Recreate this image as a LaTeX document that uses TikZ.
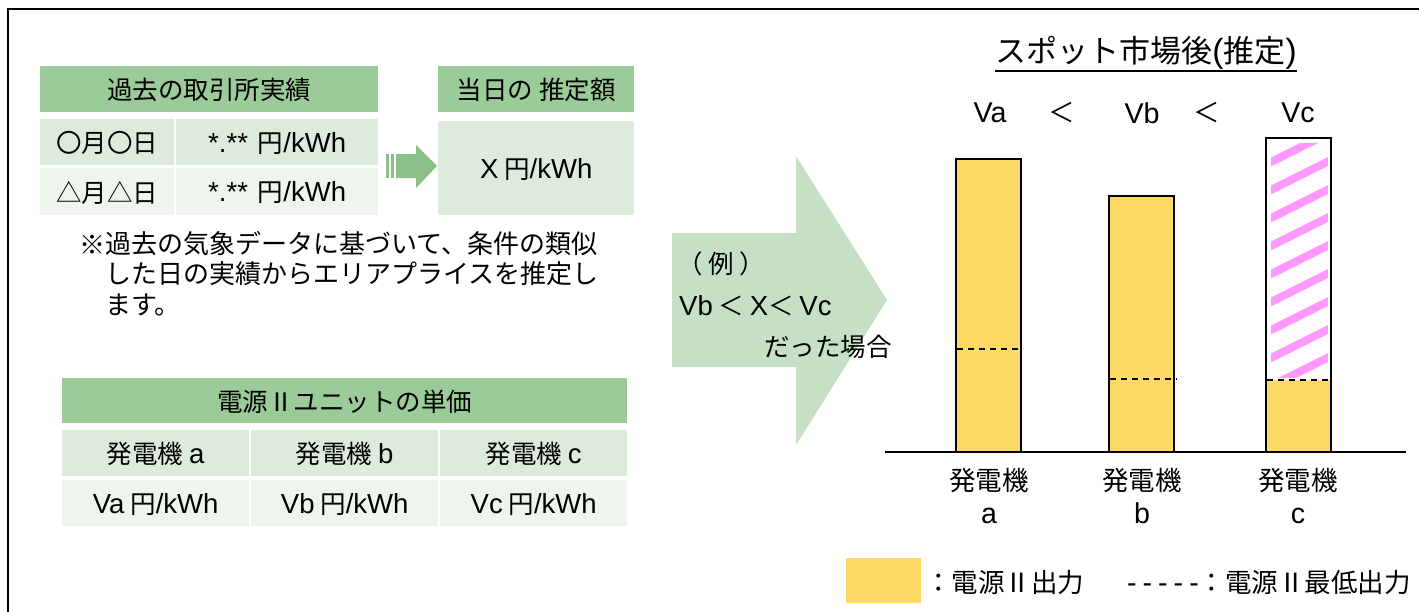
\documentclass[tikz,border=0pt]{standalone}
\usepackage{fontspec}
\setmainfont{Noto Sans CJK JP}
\newfontfamily\lat[Scale=1.08]{Liberation Sans}
\definecolor{hdr}{HTML}{9BCB98}
\definecolor{rowA}{HTML}{DDEBDC}
\definecolor{rowB}{HTML}{EEF5ED}
\definecolor{bigarrow}{HTML}{C5E0C4}
\definecolor{smallarrow}{HTML}{8CC08A}
\definecolor{barY}{HTML}{FFD966}
\definecolor{hatchP}{HTML}{FF99FF}
\begin{document}
\begin{tikzpicture}[x=1pt,y=-1pt,
  txt/.style={font=\fontsize{25.5}{30}\selectfont, inner sep=0pt},
  bigtxt/.style={font=\fontsize{26.5}{32}\selectfont, inner sep=0pt},
  cell/.style={txt, anchor=north west, minimum height=#1, text depth=0pt},
  bar/.style={draw=black, line width=2.4pt, fill=barY},
  minline/.style={black, line width=2pt, dash pattern=on 6pt off 5pt}]
\useasboundingbox (0,0) rectangle (1419,611);
\draw[line width=2.5pt] (8,615) -- (8,9) -- (1425,9);

% ---- past results table
\node[cell=46pt, fill=hdr, minimum width=338pt] (h1) at (40,66) {過去の取引所実績};
\node[cell=46pt, fill=rowA, minimum width=134pt] (r1a) at (40,119) {〇月〇日};
\node[cell=46pt, fill=rowA, minimum width=202pt] (r1b) at (176,119) {{\lat *.**} \,円{\lat /kWh}};
\node[cell=47pt, fill=rowB, minimum width=134pt] (r2a) at (40,168) {△月△日};
\node[cell=47pt, fill=rowB, minimum width=202pt] (r2b) at (176,168) {{\lat *.**} \,円{\lat /kWh}};

% ---- estimate box
\node[cell=46pt, fill=hdr, minimum width=196pt] (h2) at (438,66) {当日の 推定額};
\node[cell=94pt, fill=rowA, minimum width=196pt] (xb) at (438,121) {{\lat X} 円{\lat /kWh}};

% ---- small striped arrow
\fill[smallarrow] (386,154) rectangle (389,178);
\fill[smallarrow] (391,154) rectangle (394,178);
\fill[smallarrow] (396,154) -- (416,154) -- (416,145) -- (437,166) -- (416,188) -- (416,178) -- (396,178) -- cycle;

% ---- note
\node[txt, anchor=west, font=\fontsize{26}{30}\selectfont] (mark) at (79,245) {※};
\node[txt, anchor=north west, align=left, font=\fontsize{26}{30.5}\selectfont] (note) at (105,231)
  {過去の気象データに基づいて、条件の類似\\した日の実績からエリアプライスを推定し\\ます。};

% ---- unit price table
\node[cell=45pt, fill=hdr, minimum width=565pt] (h3) at (62,378) {電源Ⅱユニットの単価};
\node[cell=46pt, fill=rowA, minimum width=187pt] (g1) at (62,430) {発電機 {\lat a}};
\node[cell=46pt, fill=rowA, minimum width=187pt] (g2) at (251,430) {発電機 {\lat b}};
\node[cell=46pt, fill=rowA, minimum width=187pt] (g3) at (440,430) {発電機 {\lat c}};
\node[cell=46pt, fill=rowB, minimum width=187pt] (v1) at (62,480) {{\lat Va} 円{\lat /kWh}};
\node[cell=46pt, fill=rowB, minimum width=187pt] (v2) at (251,480) {{\lat Vb} 円{\lat /kWh}};
\node[cell=46pt, fill=rowB, minimum width=187pt] (v3) at (440,480) {{\lat Vc} 円{\lat /kWh}};

% ---- big arrow
\fill[bigarrow] (672,233) -- (796,233) -- (796,156) -- (887,300) -- (796,445) -- (796,367) -- (672,367) -- cycle;
\node[txt, anchor=west] (ex) at (677,264) {（ 例 ）};
\node[txt, anchor=west] (cond) at (679,306) {{\lat Vb} ＜ {\lat X}＜ {\lat Vc}};
\node[txt, anchor=west] (case) at (764,347) {だった場合};

% ---- chart
\node[inner sep=0pt, font=\fontsize{31}{36}\selectfont] (title) at (1146,53) {スポット市場後{\lat(}推定{\lat)}};
\draw[line width=1.6pt] (995,71) -- (1297,71);
\node[bigtxt] (la) at (990,113) {\lat Va};
\node[bigtxt] (lt1) at (1062,113) {＜};
\node[bigtxt] (lb) at (1142,113) {\lat Vb};
\node[bigtxt] (lt2) at (1207,113) {＜};
\node[bigtxt] (lc) at (1298,113) {\lat Vc};

\draw[bar] (956,452) rectangle (1021,159);
\draw[bar] (1109,452) rectangle (1174,196);
\fill[barY] (1266,452) rectangle (1331,380);
\begin{scope}
  \clip (1271,143) rectangle (1328,377);
  \foreach \k in {-2,...,13}
    \draw[hatchP, line width=8pt] (1255,170+28*\k) -- (1345,125+28*\k);
\end{scope}
\draw[black, line width=2.4pt] (1266,452) rectangle (1331,138);
\draw[minline] (957,349) -- (1023,349);
\draw[minline] (1110,379) -- (1177,379);
\draw[minline] (1267,380) -- (1330,380);
\draw[line width=2pt] (885,452) -- (1406,452);

\node[bigtxt, align=center, font=\fontsize{26.5}{33}\selectfont] (ga) at (989,496) {発電機\\{\lat a}};
\node[bigtxt, align=center, font=\fontsize{26.5}{33}\selectfont] (gb) at (1142,496) {発電機\\{\lat b}};
\node[bigtxt, align=center, font=\fontsize{26.5}{33}\selectfont] (gc) at (1298,496) {発電機\\{\lat c}};

% ---- legend
\fill[barY] (846,558) rectangle (921,603);
\node[bigtxt, anchor=west] (leg1) at (925,582) {：電源Ⅱ出力};
\node[bigtxt, anchor=east] (leg2) at (1411,582) {{\lat -\hspace{6pt}-\hspace{6pt}-\hspace{6pt}-\hspace{6pt}-}：電源Ⅱ最低出力};
\end{tikzpicture}
\end{document}
